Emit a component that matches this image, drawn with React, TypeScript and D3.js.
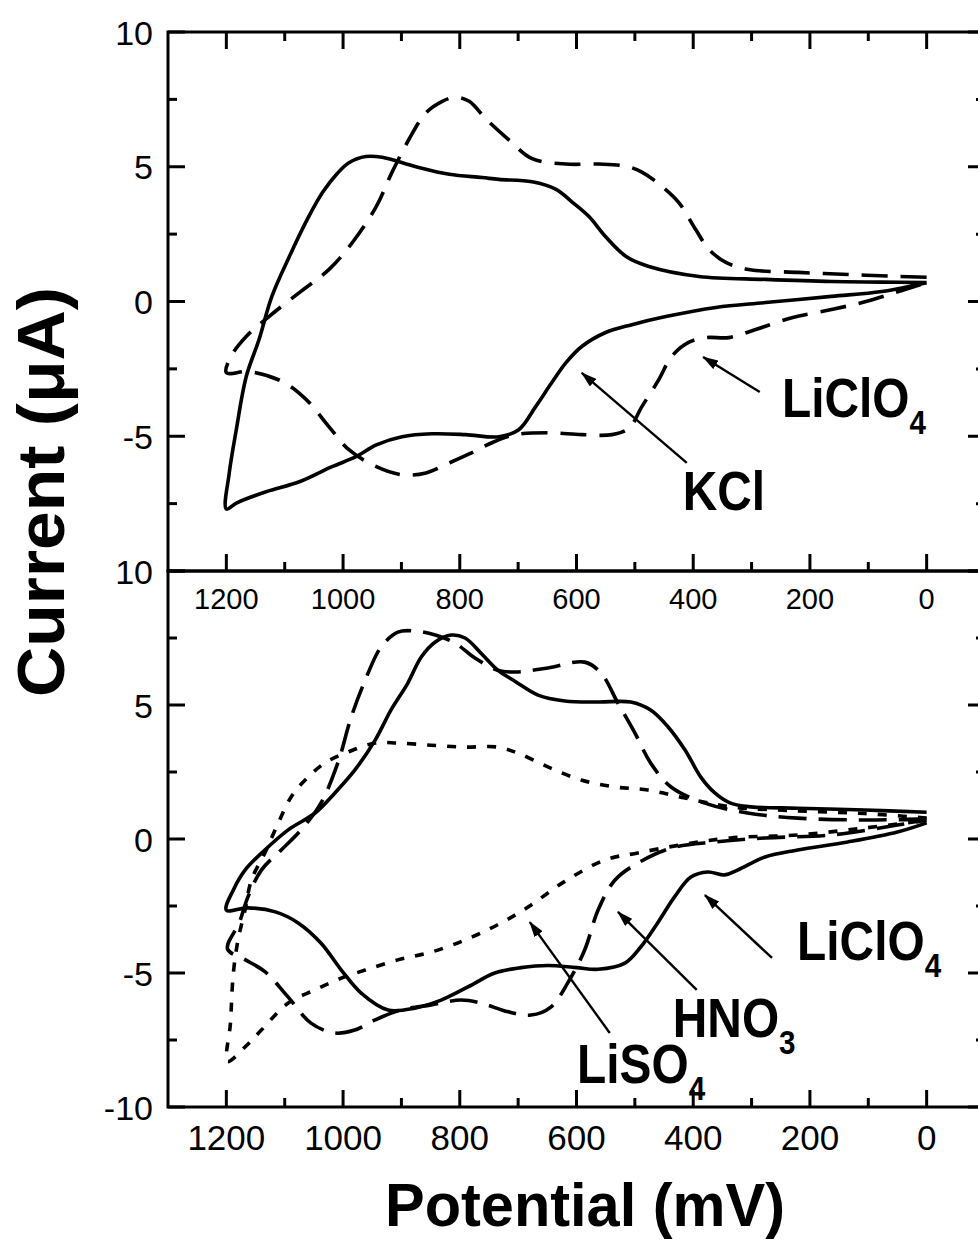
import React from 'react';
import * as d3 from 'd3';

// axis ticks (mV on x, µA on y)
const potentialTicks = [1200, 1000, 800, 600, 400, 200, 0];
const potentialMinor = [1100, 900, 700, 500, 300, 100];
const currentTicks = [10, 5, 0, -5, -10];
const currentMinor = [7.5, 2.5, -2.5, -7.5];
const topCurrentLabels = [10, 5, 0, -5];
const bottomCurrentLabels = [10, 5, 0, -5, -10];

// top panel: KCl (solid), LiClO4 (dashed) — [potential mV, current µA], one full cycle
const kclTop = [
  [0, 0.7], [77, 0.72], [163, 0.74], [276, 0.82], [390, 0.93], [476, 1.3], [515, 1.67], [550, 2.4],
  [579, 3.16], [608, 3.7], [635, 4.16], [676, 4.44], [733, 4.53], [762, 4.6], [818, 4.72], [875, 5.0],
  [933, 5.35], [961, 5.38], [990, 5.15], [1010, 4.75], [1035, 4.05], [1060, 3.1], [1092, 1.67],
  [1122, 0.19], [1144, -1.41], [1166, -2.79], [1183, -4.76], [1195, -6.36], [1200, -7.7],
  [1182, -7.47], [1132, -7.06], [1075, -6.69], [1019, -6.13], [978, -5.76], [943, -5.32], [899, -5.02],
  [848, -4.91], [790, -4.94], [733, -5.02], [699, -4.76], [670, -3.9], [642, -3.0], [618, -2.27],
  [591, -1.67], [550, -1.15], [505, -0.86], [447, -0.56], [361, -0.22], [276, -0.04], [163, 0.19],
  [77, 0.37], [0, 0.7],
];
const liclo4Top = [
  [0, 0.9], [48, 0.93], [134, 1.0], [219, 1.08], [305, 1.19], [344, 1.45], [373, 1.93], [396, 2.68],
  [425, 3.68], [454, 4.28], [488, 4.8], [515, 5.02], [562, 5.1], [618, 5.1], [676, 5.3], [716, 6.0],
  [755, 6.77], [784, 7.43], [807, 7.58], [830, 7.43], [858, 7.0], [887, 6.02], [916, 4.8], [943, 3.53],
  [984, 2.19], [1024, 1.19], [1075, 0.33], [1127, -0.56], [1166, -1.3], [1192, -2.04], [1200, -2.64],
  [1161, -2.6], [1104, -2.97], [1063, -3.64], [1024, -4.65], [990, -5.5], [943, -6.13], [899, -6.43],
  [858, -6.36], [818, -5.99], [779, -5.61], [745, -5.24], [704, -4.94], [647, -4.87], [591, -4.94],
  [539, -4.94], [510, -4.7], [488, -3.9], [459, -2.9], [437, -2.04], [408, -1.52], [378, -1.34],
  [339, -1.34], [293, -1.04], [231, -0.6], [163, -0.3], [104, 0], [48, 0.37], [0, 0.7],
];

// bottom panel: LiClO4 (solid), HNO3 (dashed), LiSO4 (dotted)
const liclo4Bottom = [
  [0, 1.0], [106, 1.08], [221, 1.15], [301, 1.2], [336, 1.34], [363, 1.72], [387, 2.31], [414, 3.32],
  [443, 4.18], [473, 4.81], [507, 5.11], [563, 5.11], [620, 5.15], [666, 5.37], [705, 5.88], [735, 6.3],
  [764, 6.94], [791, 7.5], [815, 7.61], [842, 7.35], [866, 6.79], [889, 5.82], [918, 4.81], [945, 3.69],
  [980, 2.57], [1014, 1.72], [1048, 0.97], [1094, 0.34], [1134, -0.41], [1168, -1.16], [1188, -1.9],
  [1200, -2.65],
  [1163, -2.57], [1116, -2.72], [1077, -3.13], [1038, -3.88], [1003, -4.89], [969, -5.75], [923, -6.38],
  [877, -6.31], [832, -6.01], [786, -5.52], [740, -5.0], [695, -4.8], [649, -4.72], [600, -4.8],
  [563, -4.86], [517, -4.63], [490, -4.03], [461, -3.13], [432, -2.16], [404, -1.42], [375, -1.23],
  [346, -1.34], [324, -1.16], [277, -0.67], [221, -0.41], [135, -0.11], [50, 0.26], [0, 0.6],
];
const hno3Bottom = [
  [0, 0.75], [106, 0.71], [221, 0.78], [307, 0.97], [380, 1.34], [438, 1.94], [473, 2.84], [500, 3.96],
  [529, 5.07], [558, 6.19], [586, 6.6], [649, 6.38], [705, 6.23], [735, 6.3], [774, 6.75], [808, 7.31],
  [842, 7.61], [877, 7.76], [906, 7.72], [935, 7.16], [962, 5.93], [986, 4.55], [1009, 2.84],
  [1038, 1.34], [1072, 0.34], [1106, -0.41], [1140, -1.16], [1163, -2.16], [1178, -3.13], [1198, -4.1],
  [1168, -4.5], [1134, -4.95], [1094, -5.9], [1055, -6.87], [1014, -7.24], [980, -7.13], [945, -6.75],
  [901, -6.38], [849, -6.19], [798, -6.01], [764, -6.12], [717, -6.45], [678, -6.57], [644, -6.27],
  [615, -5.37], [586, -4.14], [563, -2.65], [534, -1.53], [495, -0.9], [438, -0.34], [363, -0.11],
  [277, 0.04], [164, 0.15], [50, 0.52], [0, 0.7],
];
const liso4Bottom = [
  [0, 0.78], [106, 0.95], [221, 1.05], [336, 1.2], [414, 1.53], [478, 1.83], [534, 1.94], [592, 2.2],
  [649, 2.69], [700, 3.2], [735, 3.43], [791, 3.43], [849, 3.5], [906, 3.58], [945, 3.58], [991, 3.25],
  [1031, 2.84], [1065, 2.2], [1089, 1.57], [1111, 0.6], [1134, -0.52], [1157, -1.53], [1168, -2.65],
  [1180, -3.77], [1188, -5.0], [1193, -6.87], [1198, -8.3],
  [1168, -7.76], [1140, -7.13], [1094, -6.12], [1048, -5.63], [1003, -5.19], [962, -4.89], [906, -4.51],
  [849, -4.22], [791, -3.77], [735, -3.2], [683, -2.54], [620, -1.58], [551, -0.78], [495, -0.52],
  [421, -0.22], [336, 0.04], [221, 0.15], [106, 0.41], [0, 0.7],
];

// labels with arrows: text anchor, arrow tail, arrow head (mV, µA)
const topNotes = [
  { text: 'KCl', sub: '', at: [418, -7.74], tail: [411, -5.99], head: [591, -2.65] },
  { text: 'LiClO', sub: '4', at: [248, -4.29], tail: [286, -3.36], head: [383, -2.06] },
];
const bottomNotes = [
  { text: 'LiClO', sub: '4', at: [222, -4.51], tail: [265, -4.44], head: [380, -2.09] },
  { text: 'HNO', sub: '3', at: [435, -7.39], tail: [394, -5.63], head: [529, -2.72] },
  { text: 'LiSO', sub: '4', at: [599, -9.1], tail: [543, -7.24], head: [680, -3.1] },
];

const FONT = '"Liberation Sans", Arial, Helvetica, sans-serif';
const W = 978;
const H = 1243;

const x = d3.scaleLinear().domain([1300, -100]).range([168, 985]);
const yTop = d3.scaleLinear().domain([10, -10]).range([32, 571]);
const yBottom = d3.scaleLinear().domain([10, -10]).range([571, 1107]);

const Panel = ({ y, curves, notes, labels, tickFont, tickBaseline }) => {
  const [y0, y1] = y.range();
  const [xl, xr] = x.range();
  const line = d3
    .line()
    .x(d => x(d[0]))
    .y(d => y(d[1]))
    .curve(d3.curveCatmullRom.alpha(0.5));
  const isTop = y === yTop;

  return (
    <g>
      <rect x={xl} y={y0} width={xr - xl} height={y1 - y0} fill="none" stroke="#000" strokeWidth={3} />
      {potentialTicks.map(t => (
        <g key={'mx' + t}>
          {isTop && <line x1={x(t)} x2={x(t)} y1={y0} y2={y0 + 17} stroke="#000" strokeWidth={3} />}
          <line x1={x(t)} x2={x(t)} y1={y1} y2={y1 - 17} stroke="#000" strokeWidth={3} />
          <text
            x={x(t)}
            y={tickBaseline}
            textAnchor="middle"
            fontSize={tickFont}
            fontFamily={FONT}
          >
            {t}
          </text>
        </g>
      ))}
      {potentialMinor.map(t => (
        <g key={'nx' + t}>
          {isTop && <line x1={x(t)} x2={x(t)} y1={y0} y2={y0 + 9} stroke="#000" strokeWidth={3} />}
          <line x1={x(t)} x2={x(t)} y1={y1} y2={y1 - 9} stroke="#000" strokeWidth={3} />
        </g>
      ))}
      {currentTicks.map(t => (
        <g key={'my' + t}>
          <line x1={xl} x2={xl + 17} y1={y(t)} y2={y(t)} stroke="#000" strokeWidth={3} />
          <line x1={xr} x2={xr - 17} y1={y(t)} y2={y(t)} stroke="#000" strokeWidth={3} />
        </g>
      ))}
      {currentMinor.map(t => (
        <g key={'ny' + t}>
          <line x1={xl} x2={xl + 9} y1={y(t)} y2={y(t)} stroke="#000" strokeWidth={3} />
          <line x1={xr} x2={xr - 9} y1={y(t)} y2={y(t)} stroke="#000" strokeWidth={3} />
        </g>
      ))}
      {labels.map(t => (
        <text
          key={'ly' + t}
          x={153}
          y={y(t) + 12.5}
          textAnchor="end"
          fontSize={34}
          fontFamily={FONT}
        >
          {t}
        </text>
      ))}
      {curves.map((c, i) => (
        <path
          key={i}
          d={line(c.data)}
          fill="none"
          stroke="#000"
          strokeWidth={3.6}
          strokeDasharray={c.dash}
          strokeLinejoin="round"
        />
      ))}
      {notes.map((n, i) => (
        <g key={'n' + i}>
          <line
            x1={x(n.tail[0])}
            y1={y(n.tail[1])}
            x2={x(n.head[0])}
            y2={y(n.head[1])}
            stroke="#000"
            strokeWidth={2.4}
            markerEnd="url(#arrowHead)"
          />
          <text
            transform={`translate(${x(n.at[0])},${y(n.at[1])}) scale(0.87,1)`}
            fontFamily={FONT}
            fontWeight="bold"
            fontSize={55}
          >
            {n.text}
            {n.sub && (
              <tspan dy={17} fontSize={34}>
                {n.sub}
              </tspan>
            )}
          </text>
        </g>
      ))}
    </g>
  );
};

export default function App() {
  return (
    <svg
      width={W}
      height={H}
      style={{ position: 'absolute', left: 0, top: 0, background: '#fff' }}
    >
      <defs>
        <marker
          id="arrowHead"
          viewBox="0 0 16 10"
          refX={15}
          refY={5}
          markerWidth={16}
          markerHeight={10}
          markerUnits="userSpaceOnUse"
          orient="auto"
        >
          <path d="M0,0L16,5L0,10Z" fill="#000" />
        </marker>
      </defs>
      <rect width={W} height={H} fill="#fff" />
      <Panel
        y={yTop}
        curves={[
          { data: kclTop, dash: null },
          { data: liclo4Top, dash: '26,13' },
        ]}
        notes={topNotes}
        labels={topCurrentLabels}
        tickFont={29}
        tickBaseline={609}
      />
      <Panel
        y={yBottom}
        curves={[
          { data: liclo4Bottom, dash: null },
          { data: hno3Bottom, dash: '28,12' },
          { data: liso4Bottom, dash: '9,11' },
        ]}
        notes={bottomNotes}
        labels={bottomCurrentLabels}
        tickFont={35}
        tickBaseline={1150}
      />
      <text
        transform="translate(64,492) rotate(-90)"
        textAnchor="middle"
        fontFamily={FONT}
        fontWeight="bold"
        fontSize={66}
        textLength={410}
        lengthAdjust="spacingAndGlyphs"
      >
        Current (μA)
      </text>
      <text
        x={585}
        y={1226}
        textAnchor="middle"
        fontFamily={FONT}
        fontWeight="bold"
        fontSize={62}
        textLength={400}
        lengthAdjust="spacingAndGlyphs"
      >
        Potential (mV)
      </text>
    </svg>
  );
}
